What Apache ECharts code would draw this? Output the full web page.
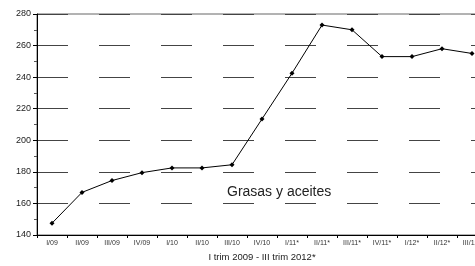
<!DOCTYPE html>
<html><head><meta charset="utf-8">
<script src="https://cdn.jsdelivr.net/npm/echarts@6/dist/echarts.min.js"></script>
<style>html,body{margin:0;padding:0;background:#fff}#c{width:475px;height:266px}</style>
</head><body><div id="c"></div>
<script>
const categories = ['I/09','II/09','III/09','IV/09','I/10','II/10','III/10','IV/10','I/11*','II/11*','III/11*','IV/11*','I/12*','II/12*','III/12*'];
const values = [147.5,167,174.5,179.5,182.5,182.5,184.5,213.5,242.5,273,270,253,253,258,255];
const yTicks = {min:140, max:280, interval:20};
const seriesName = 'Grasas y aceites';
const xAxisTitle = 'I trim 2009 - III trim 2012*';

const chart = echarts.init(document.getElementById('c'));
chart.setOption({
  animation:false,
  backgroundColor:'#fff',
  grid:{left:37, top:14, bottom:31, width:450, outerBoundsMode:'none', containLabel:false, show:true, borderColor:'#666', borderWidth:1},
  xAxis:{
    type:'category', data:categories, boundaryGap:true,
    name:xAxisTitle, nameLocation:'middle', nameGap:14,
    nameTextStyle:{fontFamily:'Liberation Sans', fontSize:9.5, color:'#222'},
    axisLine:{lineStyle:{color:'#000', width:1}},
    axisTick:{show:true, length:3, lineStyle:{color:'#000'}},
    axisLabel:{fontFamily:'Liberation Sans', fontSize:7, color:'#333', margin:5, interval:0}
  },
  yAxis:{
    type:'value', min:yTicks.min, max:yTicks.max, interval:yTicks.interval,
    axisLine:{show:true, lineStyle:{color:'#000', width:1}},
    axisTick:{show:true, length:4, lineStyle:{color:'#000'}},
    minorTick:{show:true, splitNumber:2, length:3, lineStyle:{color:'#555'}},
    axisLabel:{fontFamily:'Liberation Sans', fontSize:9, color:'#222', margin:6},
    splitLine:{show:true, lineStyle:{color:'#444', width:1, type:[31,31]}}
  },
  graphic:[{type:'text', left:227, top:185, style:{text:seriesName, font:'14px "Liberation Sans"', fill:'#222'}}],
  series:[{
    type:'line', name:seriesName, data:values,
    lineStyle:{color:'#000', width:1},
    itemStyle:{color:'#000'},
    symbol:'diamond', symbolSize:5, showSymbol:true
  }]
});
</script></body></html>
